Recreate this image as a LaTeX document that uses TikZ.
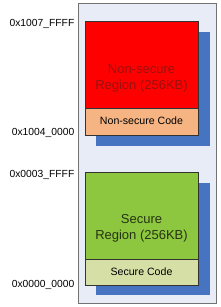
\documentclass[tikz,border=0pt]{standalone}
\usepackage{fontspec}
\setmainfont{Liberation Sans}
\definecolor{panel}{HTML}{E8ECF6}
\definecolor{shadowblue}{HTML}{4674C0}
\definecolor{nsred}{HTML}{FF0000}
\definecolor{nscode}{HTML}{F6B483}
\definecolor{sgreen}{HTML}{8DC63F}
\definecolor{scode}{HTML}{D6DFA6}
\definecolor{nstext}{HTML}{9A1010}
\definecolor{stext}{HTML}{263414}
\begin{document}
\begin{tikzpicture}[x=1pt,y=-1pt,
  region/.style={draw=black!80,line width=0.7pt},
  shadowbox/.style={fill=shadowblue,draw=none},
  addr/.style={anchor=east,font=\fontsize{10.3}{12}\selectfont,inner sep=0pt},
  big/.style={font=\fontsize{13}{16}\selectfont,align=center,inner sep=0pt},
  small/.style={font=\fontsize{10.6}{12}\selectfont,inner sep=0pt}]
\useasboundingbox (0,0) rectangle (220,307);
\fill[white] (0,0) rectangle (220,307);
% panel
\draw[fill=panel,draw=black!55,line width=0.7pt] (78,3) rectangle (216.5,303);
% non-secure
\fill[shadowblue] (96,32) rectangle (210,146);
\draw[region,fill=nsred] (85,21) rectangle (198,108);
\draw[region,fill=nscode] (85,108) rectangle (198,135);
\node[big,text=nstext] (nsr) at (141.5,78) {Non-secure\\Region (256KB)};
\node[small] (nsc) at (141.5,121) {Non-secure Code};
% secure
\fill[shadowblue] (96,183) rectangle (210,295);
\draw[region,fill=sgreen] (85,172) rectangle (198,259);
\draw[region,fill=scode] (85,259) rectangle (198,285);
\node[big,text=stext] (sr) at (141.5,228) {Secure\\Region (256KB)};
\node[small] (sc) at (141.5,271.5) {Secure Code};
% addresses
\node[addr] (a1) at (74.5,23.5) {0x1007\_FFFF};
\node[addr] (a2) at (74.5,132.5) {0x1004\_0000};
\node[addr] (a3) at (74.5,174.5) {0x0003\_FFFF};
\node[addr] (a4) at (74.5,284.5) {0x0000\_0000};
\end{tikzpicture}
\end{document}
